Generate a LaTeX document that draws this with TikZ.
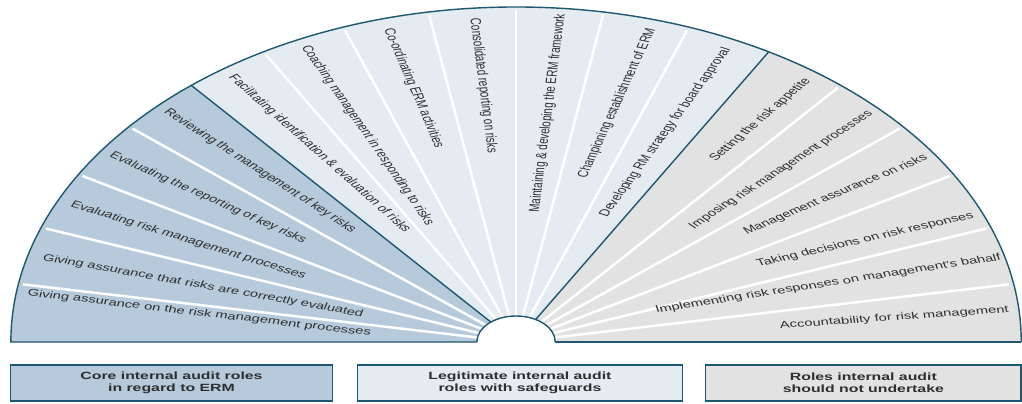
\documentclass[tikz,border=0pt]{standalone}
\usepackage{fontspec}
\setmainfont{Liberation Sans}
\definecolor{coreblue}{HTML}{B6CADC}
\definecolor{legitblue}{HTML}{E4ECF1}
\definecolor{nogray}{HTML}{E2E2E2}
\definecolor{rimteal}{HTML}{1D5870}
\definecolor{txtgray}{HTML}{2E2E2E}
\tikzset{
  role/.style={font=\fontsize{9.8}{12}\selectfont,text=txtgray,inner sep=0pt,transform shape},
  legendbox/.style={draw=rimteal,line width=1.2pt,minimum height=36,align=center,
    font=\fontsize{10.5}{12}\selectfont\bfseries,text=txtgray,transform shape},
  rim/.style={rimteal,line width=1.4pt},
}
\begin{document}
\begin{tikzpicture}[x=1pt,y=1pt,xscale=1.508]
\useasboundingbox (0,0) rectangle (677.7,403);
\begin{scope}[shift={(342.2,61)}]
%sectors
\fill[coreblue](130:26)--(130:335)arc(130:180:335)--(180:26)arc(180:130:26)--cycle;
\fill[legitblue](60:26)--(60:335)arc(60:130:335)--(130:26)arc(130:60:26)--cycle;
\fill[nogray](0:26)--(0:335)arc(0:60:335)--(60:26)arc(60:0:26)--cycle;
%white separators
\foreach \a in {10,20,...,50,70,80,...,120,140,150,...,170}{
\draw[white,line width=2.5pt](\a:26)--(\a:332);
}
%group borders
\foreach \a in {60,130}{
\draw[rim](\a:26)--(\a:335);
}
\draw[rim](0:335)arc(0:180:335)--(180:26);
\draw[rim](0:26)--(0:335);
\draw[rim,fill=white](0:26)arc(0:180:26);
%roles
\foreach \a/\d/\r/\txt [count=\i] in {
172.2/212/-10/Giving assurance on the risk management processes,
164.9/215/-15/Giving assurance that risks are correctly evaluated,
154.9/240/-25/Evaluating risk management processes,
144.8/250/-34/Evaluating the reporting of key risks,
134.8/241/-44/Reviewing the management of key risks,
124.7/229/-53/Facilitating identification \& evaluation of risks,
115.5/229/-65/Coaching management in responding to risks,
105/263/-74/Co-ordinating ERM activities,
94.9/257/-85/Consolidated reporting on risks,
84.7/230/85/Maintaining \& developing the ERM framework,
74.3/248/73/Championing establishment of ERM,
64.7/232/64/Developing RM strategy for board approval,
53.9/275/52/Setting the risk appetite,
44.4/246/44/Imposing risk management processes,
34.8/258/32/Management assurance on risks,
23.8/253/19/Taking decisions on risk responses,
15.7/215/13/Implementing risk responses on management's bahalf,
5.5/252/6/Accountability for risk management}{
\node[role,rotate=\r](role\i)at(\a:\d){\txt};
}
\end{scope}
%legend
\node[legendbox,fill=coreblue,minimum width=214](core)at(113.7,20){Core internal audit roles\\in regard to ERM};
\node[legendbox,fill=legitblue,minimum width=216](legit)at(344.8,20){Legitimate internal audit\\roles with safeguards};
\node[legendbox,fill=nogray,minimum width=209](notrole)at(572.5,20){Roles internal audit\\should not undertake};
\end{tikzpicture}
\end{document}
